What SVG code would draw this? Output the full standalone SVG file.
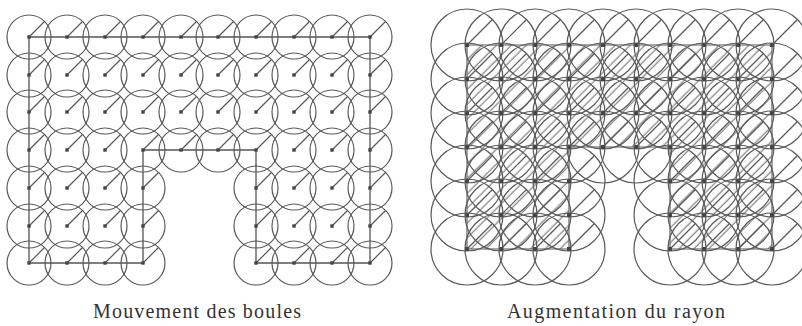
<svg xmlns="http://www.w3.org/2000/svg" width="802" height="326" viewBox="0 0 802 326">
<style>
.c{fill:none;stroke:#5a5a5a;stroke-width:1.2}
.r{stroke:#5a5a5a;stroke-width:1.2}
.sq{fill:#444}
.b{fill:none;stroke:#555;stroke-width:1.3}
.b2{fill:none;stroke:#555;stroke-width:1.1}
.h{stroke:#666;stroke-width:1}
.t{font-family:"Liberation Serif","DejaVu Serif",serif;font-size:20px;fill:#333}
</style>
<defs>
<g id="bL"><circle class="c" r="22"/><line class="r" x1="0" y1="0" x2="15.5" y2="-15.5"/><rect class="sq" x="-1.7" y="-1.7" width="3.4" height="3.4"/></g>
<g id="bR"><circle class="c" r="36"/><line class="r" x1="0" y1="0" x2="25.5" y2="-25.5"/><rect class="sq" x="-2" y="-2" width="4" height="4"/></g>
<pattern id="hatch" width="10.5" height="10.5" patternUnits="userSpaceOnUse" patternTransform="rotate(45)"><line class="h" x1="5" y1="0" x2="5" y2="10.5"/></pattern>
<clipPath id="domR"><path d="M467,45H772V249H670V147H569V249H467Z"/></clipPath>
</defs>
<g id="connectors">
<path class="b" d="M29,37H370V263H256V150H143V263H29Z"/>
<rect x="430" y="0" width="372" height="300" fill="url(#hatch)" clip-path="url(#domR)"/>
<path class="b2" d="M467,45H772V249H670V147H569V249H467Z"/>
</g>
<g id="left-balls">
<use id="L00" href="#bL" x="29" y="37"/><use id="L01" href="#bL" x="67" y="37"/><use id="L02" href="#bL" x="105" y="37"/><use id="L03" href="#bL" x="143" y="37"/><use id="L04" href="#bL" x="181" y="37"/><use id="L05" href="#bL" x="218" y="37"/><use id="L06" href="#bL" x="256" y="37"/><use id="L07" href="#bL" x="294" y="37"/><use id="L08" href="#bL" x="332" y="37"/><use id="L09" href="#bL" x="370" y="37"/>
<use id="L10" href="#bL" x="29" y="75"/><use id="L11" href="#bL" x="67" y="75"/><use id="L12" href="#bL" x="105" y="75"/><use id="L13" href="#bL" x="143" y="75"/><use id="L14" href="#bL" x="181" y="75"/><use id="L15" href="#bL" x="218" y="75"/><use id="L16" href="#bL" x="256" y="75"/><use id="L17" href="#bL" x="294" y="75"/><use id="L18" href="#bL" x="332" y="75"/><use id="L19" href="#bL" x="370" y="75"/>
<use id="L20" href="#bL" x="29" y="112"/><use id="L21" href="#bL" x="67" y="112"/><use id="L22" href="#bL" x="105" y="112"/><use id="L23" href="#bL" x="143" y="112"/><use id="L24" href="#bL" x="181" y="112"/><use id="L25" href="#bL" x="218" y="112"/><use id="L26" href="#bL" x="256" y="112"/><use id="L27" href="#bL" x="294" y="112"/><use id="L28" href="#bL" x="332" y="112"/><use id="L29" href="#bL" x="370" y="112"/>
<use id="L30" href="#bL" x="29" y="150"/><use id="L31" href="#bL" x="67" y="150"/><use id="L32" href="#bL" x="105" y="150"/><use id="L33" href="#bL" x="143" y="150"/><use id="L34" href="#bL" x="181" y="150"/><use id="L35" href="#bL" x="218" y="150"/><use id="L36" href="#bL" x="256" y="150"/><use id="L37" href="#bL" x="294" y="150"/><use id="L38" href="#bL" x="332" y="150"/><use id="L39" href="#bL" x="370" y="150"/>
<use id="L40" href="#bL" x="29" y="188"/><use id="L41" href="#bL" x="67" y="188"/><use id="L42" href="#bL" x="105" y="188"/><use id="L43" href="#bL" x="143" y="188"/><use id="L46" href="#bL" x="256" y="188"/><use id="L47" href="#bL" x="294" y="188"/><use id="L48" href="#bL" x="332" y="188"/><use id="L49" href="#bL" x="370" y="188"/>
<use id="L50" href="#bL" x="29" y="226"/><use id="L51" href="#bL" x="67" y="226"/><use id="L52" href="#bL" x="105" y="226"/><use id="L53" href="#bL" x="143" y="226"/><use id="L56" href="#bL" x="256" y="226"/><use id="L57" href="#bL" x="294" y="226"/><use id="L58" href="#bL" x="332" y="226"/><use id="L59" href="#bL" x="370" y="226"/>
<use id="L60" href="#bL" x="29" y="263"/><use id="L61" href="#bL" x="67" y="263"/><use id="L62" href="#bL" x="105" y="263"/><use id="L63" href="#bL" x="143" y="263"/><use id="L66" href="#bL" x="256" y="263"/><use id="L67" href="#bL" x="294" y="263"/><use id="L68" href="#bL" x="332" y="263"/><use id="L69" href="#bL" x="370" y="263"/>
</g>
<g id="right-balls">
<use id="R00" href="#bR" x="467" y="45"/><use id="R01" href="#bR" x="501" y="45"/><use id="R02" href="#bR" x="535" y="45"/><use id="R03" href="#bR" x="569" y="45"/><use id="R04" href="#bR" x="603" y="45"/><use id="R05" href="#bR" x="636" y="45"/><use id="R06" href="#bR" x="670" y="45"/><use id="R07" href="#bR" x="704" y="45"/><use id="R08" href="#bR" x="738" y="45"/><use id="R09" href="#bR" x="772" y="45"/>
<use id="R10" href="#bR" x="467" y="79"/><use id="R11" href="#bR" x="501" y="79"/><use id="R12" href="#bR" x="535" y="79"/><use id="R13" href="#bR" x="569" y="79"/><use id="R14" href="#bR" x="603" y="79"/><use id="R15" href="#bR" x="636" y="79"/><use id="R16" href="#bR" x="670" y="79"/><use id="R17" href="#bR" x="704" y="79"/><use id="R18" href="#bR" x="738" y="79"/><use id="R19" href="#bR" x="772" y="79"/>
<use id="R20" href="#bR" x="467" y="113"/><use id="R21" href="#bR" x="501" y="113"/><use id="R22" href="#bR" x="535" y="113"/><use id="R23" href="#bR" x="569" y="113"/><use id="R24" href="#bR" x="603" y="113"/><use id="R25" href="#bR" x="636" y="113"/><use id="R26" href="#bR" x="670" y="113"/><use id="R27" href="#bR" x="704" y="113"/><use id="R28" href="#bR" x="738" y="113"/><use id="R29" href="#bR" x="772" y="113"/>
<use id="R30" href="#bR" x="467" y="147"/><use id="R31" href="#bR" x="501" y="147"/><use id="R32" href="#bR" x="535" y="147"/><use id="R33" href="#bR" x="569" y="147"/><use id="R34" href="#bR" x="603" y="147"/><use id="R35" href="#bR" x="636" y="147"/><use id="R36" href="#bR" x="670" y="147"/><use id="R37" href="#bR" x="704" y="147"/><use id="R38" href="#bR" x="738" y="147"/><use id="R39" href="#bR" x="772" y="147"/>
<use id="R40" href="#bR" x="467" y="181"/><use id="R41" href="#bR" x="501" y="181"/><use id="R42" href="#bR" x="535" y="181"/><use id="R43" href="#bR" x="569" y="181"/><use id="R46" href="#bR" x="670" y="181"/><use id="R47" href="#bR" x="704" y="181"/><use id="R48" href="#bR" x="738" y="181"/><use id="R49" href="#bR" x="772" y="181"/>
<use id="R50" href="#bR" x="467" y="215"/><use id="R51" href="#bR" x="501" y="215"/><use id="R52" href="#bR" x="535" y="215"/><use id="R53" href="#bR" x="569" y="215"/><use id="R56" href="#bR" x="670" y="215"/><use id="R57" href="#bR" x="704" y="215"/><use id="R58" href="#bR" x="738" y="215"/><use id="R59" href="#bR" x="772" y="215"/>
<use id="R60" href="#bR" x="467" y="249"/><use id="R61" href="#bR" x="501" y="249"/><use id="R62" href="#bR" x="535" y="249"/><use id="R63" href="#bR" x="569" y="249"/><use id="R66" href="#bR" x="670" y="249"/><use id="R67" href="#bR" x="704" y="249"/><use id="R68" href="#bR" x="738" y="249"/><use id="R69" href="#bR" x="772" y="249"/>
</g>
<g id="labels">
<text class="t" x="197" y="318" text-anchor="middle" textLength="208" lengthAdjust="spacing">Mouvement des boules</text>
<text class="t" x="616" y="318" text-anchor="middle" textLength="218" lengthAdjust="spacing">Augmentation du rayon</text>
</g>
</svg>
